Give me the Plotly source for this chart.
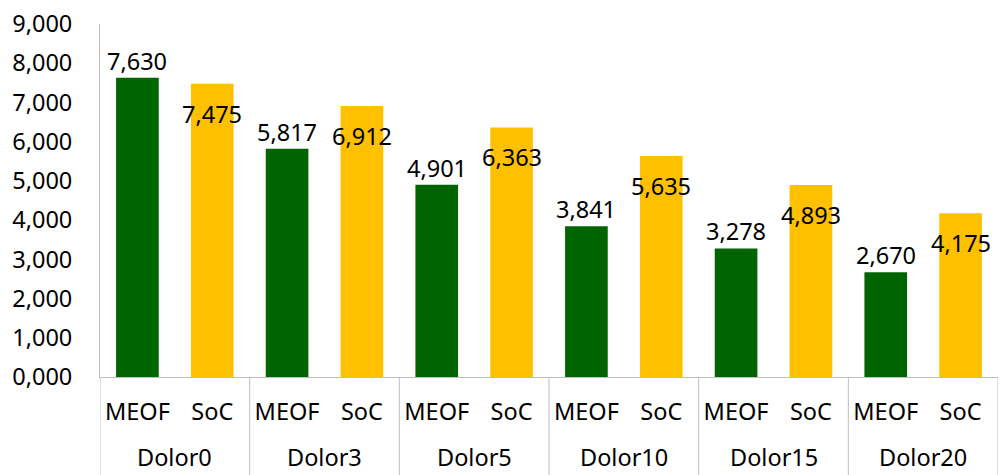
import plotly.graph_objects as go

# data
groups = ["Dolor0", "Dolor3", "Dolor5", "Dolor10", "Dolor15", "Dolor20"]
methods = ["MEOF", "SoC"]
meof = [7.630, 5.817, 4.901, 3.841, 3.278, 2.670]
soc = [7.475, 6.912, 6.363, 5.635, 4.893, 4.175]

green = "#006400"
yellow = "#FFC000"
axis_gray = "#bfbfbf"
font_name = "Noto Sans"
fsize = 23.5

# interleave the two series: each group gets MEOF then SoC
pos, labels, vals, colors = [], [], [], []
for k, (a, b) in enumerate(zip(meof, soc)):
    pos += [2 * k, 2 * k + 1]
    labels += methods
    vals += [a, b]
    colors += [green, yellow]

fig = go.Figure()
fig.add_trace(go.Bar(
    x=pos,
    y=vals,
    marker=dict(color=colors, line=dict(width=0)),
    width=0.57,
    showlegend=False,
    hoverinfo="skip",
))

annotations = []
# value labels: MEOF above the bar, SoC a bit below the bar top
for p, v, m in zip(pos, vals, labels):
    annotations.append(dict(
        x=p, y=v, xref="x", yref="y",
        text=f"{v:.3f}".replace(".", ","),
        showarrow=False,
        yanchor="middle",
        yshift=17 if m == "MEOF" else -30,
        font=dict(family=font_name, size=fsize, color="black"),
    ))
# group labels under the method labels
for k, g in enumerate(groups):
    annotations.append(dict(
        x=2 * k + 0.5, y=-0.228, xref="x", yref="paper",
        text=g, showarrow=False, yanchor="middle",
        font=dict(family=font_name, size=fsize, color="black"),
    ))

# group dividers running from the axis down to the bottom edge
shapes = []
for k in range(len(groups) + 1):
    shapes.append(dict(
        type="line", xref="x", yref="paper",
        x0=2 * k - 0.5, x1=2 * k - 0.5, y0=0, y1=-0.3,
        line=dict(color=axis_gray, width=1),
    ))

fig.update_layout(
    width=1000, height=475,
    margin=dict(l=100, r=2, t=24, b=98),
    paper_bgcolor="white",
    plot_bgcolor="white",
    separators=",.",
    font=dict(family=font_name, size=fsize, color="black"),
    annotations=annotations,
    shapes=shapes,
)
fig.update_xaxes(
    range=[-0.5, 2 * len(groups) - 0.5],
    tickvals=pos, ticktext=labels,
    showline=True, linecolor=axis_gray, linewidth=1,
    showgrid=False, zeroline=False,
    ticks="", ticklabelstandoff=14,
    tickfont=dict(family=font_name, size=fsize, color="black"),
)
fig.update_yaxes(
    range=[0, 9], dtick=1, tickformat=".3f",
    showline=True, linecolor=axis_gray, linewidth=1,
    showgrid=False, zeroline=False,
    ticks="", ticklabelstandoff=22,
    tickfont=dict(family=font_name, size=fsize, color="black"),
)

fig.write_html("out.html", config={"displayModeBar": False},
               post_script="document.body.style.margin='0';")
